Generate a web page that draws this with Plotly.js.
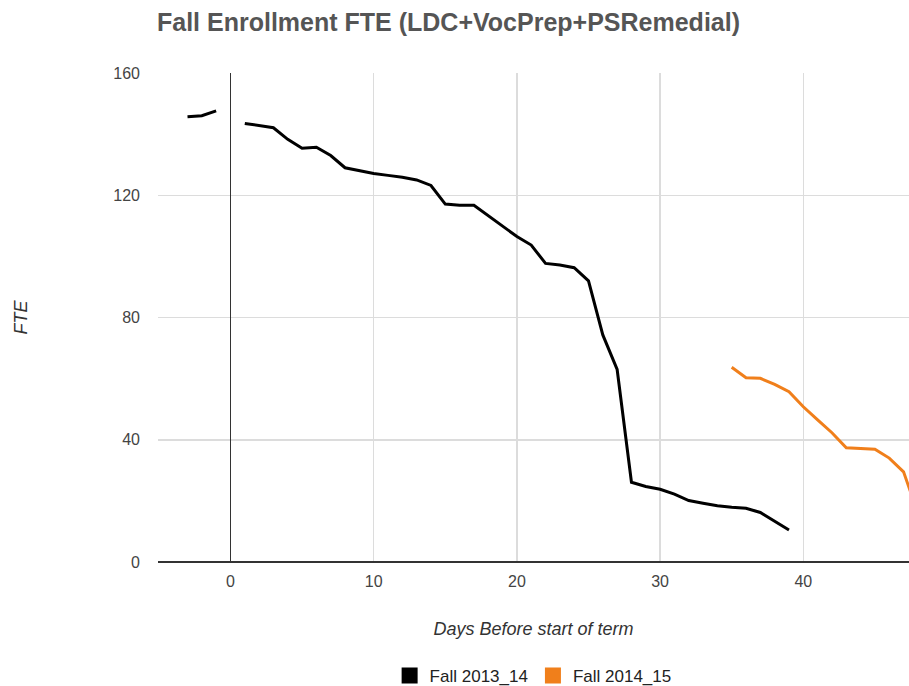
<!DOCTYPE html>
<html>
<head>
<meta charset="utf-8">
<script src="https://cdn.plot.ly/plotly-3.0.1.min.js"></script>
<style>html,body{margin:0;padding:0;background:#fff;}#chart{width:909px;height:686px;}</style>
</head>
<body>
<div id="chart"></div>
<script>
// Days before start of term (x) and FTE values
const days2013 = [-3, -2, -1, 0, 1, 2, 3, 4, 5, 6, 7, 8, 9, 10, 11, 12, 13, 14, 15, 16, 17, 18, 19, 20,
                  21, 22, 23, 24, 25, 26, 27, 28, 29, 30, 31, 32, 33, 34, 35, 36, 37, 38, 39];
const fte2013 = [145.7, 146.0, 147.6, null, 143.5, 142.8, 142.1, 138.3, 135.4, 135.7, 133.0, 129.0, 128.0, 127.1,
                 126.5, 125.9, 125.0, 123.2, 117.1, 116.7, 116.7, 113.2, 110.0, 106.5, 103.7, 97.7, 97.2,
                 96.3, 92.0, 74.3, 63.0, 26.1, 24.7, 23.8, 22.2, 20.1, 19.2, 18.4, 17.9, 17.6, 16.2, 13.3, 10.5];
const days2014 = [35, 36, 37, 38, 39, 40, 41, 42, 43, 44, 45, 46, 47, 48];
const fte2014 = [63.7, 60.3, 60.1, 58.1, 55.7, 50.8, 46.5, 42.3, 37.4, 37.2, 36.9, 34.0, 29.5, 16.0];
const seriesNames = ["Fall 2013_14", "Fall 2014_15"];
const seriesColors = ["#000000", "#f07f1b"];
const xTicks = [0, 10, 20, 30, 40];
const yTicks = [0, 40, 80, 120, 160];

const FONT = "Liberation Sans, Arial, Helvetica, sans-serif";

const traces = [
  {x: days2013, y: fte2013, type: "scatter", mode: "lines", name: seriesNames[0],
   line: {color: seriesColors[0], width: 3}, connectgaps: false, showlegend: false, legendgroup: "a"},
  {x: days2014, y: fte2014, type: "scatter", mode: "lines", name: seriesNames[1],
   line: {color: seriesColors[1], width: 3}, showlegend: false, legendgroup: "b"},
  // legend swatches (square keys as in the original)
  {x: [null], y: [null], type: "scatter", mode: "markers", name: seriesNames[0], legendgroup: "a",
   marker: {symbol: "square", size: 16, color: seriesColors[0]}},
  {x: [null], y: [null], type: "scatter", mode: "markers", name: seriesNames[1], legendgroup: "b",
   marker: {symbol: "square", size: 16, color: seriesColors[1]}}
];

const layout = {
  width: 909, height: 686,
  paper_bgcolor: "#ffffff", plot_bgcolor: "#ffffff",
  margin: {l: 158, r: 0, t: 73, b: 124, pad: 0},
  font: {family: FONT, color: "#444444", size: 16},
  title: {text: "<b>Fall Enrollment FTE (LDC+VocPrep+PSRemedial)</b>",
          font: {family: FONT, size: 25, color: "#555555"},
          x: 157/909, xanchor: "left", xref: "container",
          y: 1 - 22/686, yanchor: "middle", yref: "container"},
  xaxis: {range: [-5.06, 47.38], tickvals: xTicks, ticktext: xTicks.map(String),
          showgrid: true, gridcolor: "#dcdcdc", gridwidth: 1.5,
          zeroline: true, zerolinecolor: "#333333", zerolinewidth: 1.5,
          showline: false, ticks: "", ticklabelstandoff: 8, automargin: false,
          tickfont: {family: FONT, size: 16, color: "#444444"},
          title: {text: "<i>Days Before start of term</i>", standoff: 33,
                  font: {family: FONT, size: 18, color: "#333333"}},
          fixedrange: true},
  yaxis: {range: [0, 160], tickvals: yTicks, ticktext: yTicks.map(String),
          showgrid: true, gridcolor: "#dcdcdc", gridwidth: 1.5,
          zeroline: true, zerolinecolor: "#333333", zerolinewidth: 2,
          showline: false, ticks: "", ticklabelstandoff: 17, automargin: false,
          tickfont: {family: FONT, size: 16, color: "#444444"},
          title: {text: "<i>FTE</i>", standoff: 80,
                  font: {family: FONT, size: 18, color: "#333333"}},
          fixedrange: true},
  showlegend: true,
  legend: {orientation: "h", x: 0.4995, xanchor: "center", xref: "paper",
           y: 10/686, yanchor: "middle", yref: "container",
           font: {family: FONT, size: 17, color: "#222222"}, itemwidth: 30,
           bgcolor: "rgba(0,0,0,0)", traceorder: "normal"}
};

Plotly.newPlot("chart", traces, layout, {displayModeBar: false, staticPlot: true});
</script>
</body>
</html>
